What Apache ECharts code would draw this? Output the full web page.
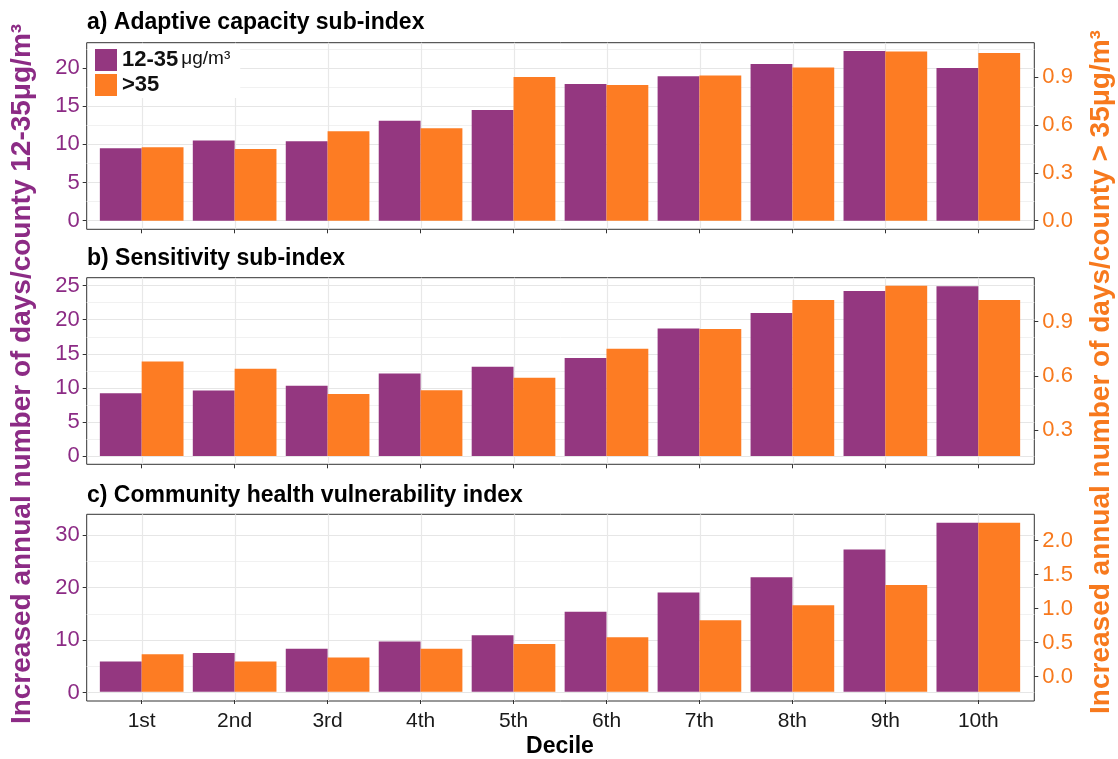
<!DOCTYPE html>
<html>
<head>
<meta charset="utf-8">
<script src="https://cdn.jsdelivr.net/npm/echarts@6/dist/echarts.min.js"></script>
<style>
  html, body { margin: 0; padding: 0; background: #fff; }
  #chart { width: 1118px; height: 759px; }
</style>
</head>
<body>
<div id="chart"></div>
<script>
var deciles = ['1st', '2nd', '3rd', '4th', '5th', '6th', '7th', '8th', '9th', '10th'];
var decilePos = [0, 1, 2, 3, 4, 5, 6, 7, 8, 9];
var seriesNames = ['12-35', '>35'];
var panelTitles = ['a) Adaptive capacity sub-index', 'b) Sensitivity sub-index', 'c) Community health vulnerability index'];

// left axis values (12-35 µg/m3), right axis values (>35 µg/m3)
var capLow = [9.5, 10.5, 10.4, 13.1, 14.5, 17.9, 18.9, 20.5, 22.2, 20.0];
var capHigh = [0.46, 0.45, 0.56, 0.58, 0.90, 0.85, 0.91, 0.96, 1.06, 1.05];
var sensLow = [9.2, 9.6, 10.3, 12.1, 13.1, 14.4, 18.7, 21.0, 24.2, 24.9];
var sensHigh = [0.68, 0.64, 0.50, 0.52, 0.59, 0.75, 0.86, 1.02, 1.10, 1.02];
var chviLow = [5.8, 7.4, 8.2, 9.6, 10.8, 15.3, 19.0, 21.9, 27.2, 32.3];
var chviHigh = [0.32, 0.21, 0.27, 0.40, 0.47, 0.57, 0.82, 1.04, 1.34, 2.26];

// tick labels
var capTicks = [0, 5, 10, 15, 20];
var capTicksR = [0, 0.3, 0.6, 0.9];
var sensTicks = [0, 5, 10, 15, 20, 25];
var sensTicksR = [0.3, 0.6, 0.9];
var chviTicks = [0, 10, 20, 30];
var chviTicksR = [0, 0.5, 1, 1.5, 2];

var purple = '#943780', orange = '#fd7c23';
var purpleText = '#8c2b85', orangeText = '#f7791d';
var font = '"Liberation Sans", Arial, sans-serif';

// panel boxes and axis ranges (secondary axis is a linear transform of the primary)
var panels = [
    { title: panelTitles[0], low: capLow, high: capHigh, ticks: capTicks, ticksR: capTicksR,
      top: 42.7, height: 186.6, titleY: 23,
      left: [-1.12, 23.3], lowSplit: 5, right: [-0.0536, 1.115], start: 0 },
    { title: panelTitles[1], low: sensLow, high: sensHigh, ticks: sensTicks, ticksR: sensTicksR,
      top: 277.7, height: 186.6, titleY: 259,
      left: [-1.22, 26.17], lowSplit: 5, right: [0.110, 1.144], start: 0.156 },
    { title: panelTitles[2], low: chviLow, high: chviHigh, ticks: chviTicks, ticksR: chviTicksR,
      top: 514.3, height: 186.7, titleY: 495.6,
      left: [-1.58, 33.94], lowSplit: 5, right: [-0.357, 2.384], start: -0.235 }
];

var grid = [], xAxis = [], yAxis = [], series = [], graphic = [];

panels.forEach(function (p, i) {
    var last = i === panels.length - 1;
    // full panel box (border + grid lines)
    grid.push({ left: 86.7, right: 83.7, top: p.top, height: p.height, show: true,
        borderColor: '#333', borderWidth: 1, backgroundColor: 'transparent' });
    // box that holds the bars, one band per decile
    grid.push({ left: 95.2, right: 93.2, top: p.top, height: p.height });

    xAxis.push({
        gridIndex: 2 * i, type: 'value', min: -0.6, max: 9.6, splitNumber: 10,
        axisLine: { show: false, onZero: false },
        axisTick: { show: false, customValues: decilePos },
        axisLabel: { show: false, customValues: decilePos },
        splitLine: { show: true, lineStyle: { color: '#e8e8e8', width: 1.2 } }
    });
    xAxis.push({
        gridIndex: 2 * i + 1, type: 'category', data: deciles,
        axisLine: { show: false, onZero: false },
        axisTick: { show: true, alignWithLabel: true, length: 4, lineStyle: { color: '#333' } },
        axisLabel: { show: last, color: '#1a1a1a', fontSize: 21, fontFamily: font, margin: 11 },
        splitLine: { show: false },
        name: last ? 'Decile' : '', nameLocation: 'middle', nameGap: 35,
        nameTextStyle: { color: '#000', fontSize: 23, fontWeight: 'bold', fontFamily: font }
    });

    yAxis.push({
        gridIndex: 2 * i, type: 'value', position: 'left', min: p.left[0], max: p.left[1], splitNumber: p.lowSplit,
        axisLine: { show: false, onZero: false },
        axisTick: { show: true, length: 4, lineStyle: { color: '#333' }, customValues: p.ticks },
        axisLabel: { color: purpleText, fontSize: 22, fontFamily: font, margin: 7, customValues: p.ticks },
        splitLine: { show: true, lineStyle: { color: '#e6e6e6', width: 1.2 } },
        minorTick: { show: false, splitNumber: 2 },
        minorSplitLine: { show: true, lineStyle: { color: '#f1f1f1', width: 1 } }
    });
    yAxis.push({
        gridIndex: 2 * i, type: 'value', position: 'right', min: p.right[0], max: p.right[1],
        axisLine: { show: false, onZero: false },
        axisTick: { show: true, length: 4, lineStyle: { color: '#333' }, customValues: p.ticksR },
        axisLabel: { color: orangeText, fontSize: 22, fontFamily: font, margin: 8, customValues: p.ticksR,
            formatter: function (v) { return v.toFixed(1); } },
        splitLine: { show: false }
    });
    yAxis.push({ gridIndex: 2 * i + 1, type: 'value', show: false, min: p.left[0], max: p.left[1],
        axisLine: { onZero: false }, splitLine: { show: false } });
    yAxis.push({ gridIndex: 2 * i + 1, type: 'value', show: false, min: p.right[0], max: p.right[1],
        axisLine: { onZero: false }, startValue: p.start, splitLine: { show: false } });

    series.push({
        name: seriesNames[0], type: 'bar', xAxisIndex: 2 * i + 1, yAxisIndex: 4 * i + 2,
        data: p.low, barWidth: '45%', barGap: '0%',
        itemStyle: { color: purple }
    });
    series.push({
        name: seriesNames[1], type: 'bar', xAxisIndex: 2 * i + 1, yAxisIndex: 4 * i + 3,
        data: p.high, barWidth: '45%', barGap: '0%',
        itemStyle: { color: orange }
    });

    graphic.push({
        type: 'text', x: 87, y: p.titleY,
        style: { text: p.title, fill: '#000', font: 'bold 23px ' + font, align: 'left', verticalAlign: 'middle' }
    });
});

graphic.push({
    type: 'text', x: 22, y: 374, rotation: Math.PI / 2,
    style: { text: 'Increased annual number of days/county 12-35μg/m³', fill: purpleText,
        font: 'bold 28px ' + font, align: 'center', verticalAlign: 'middle' }
});
graphic.push({
    type: 'text', x: 1101, y: 372, rotation: Math.PI / 2,
    style: { text: 'Increased annual number of days/county > 35μg/m³', fill: orangeText,
        font: 'bold 28px ' + font, align: 'center', verticalAlign: 'middle' }
});

var myChart = echarts.init(document.getElementById('chart'));
var option = {
    backgroundColor: '#fff',
    animation: false,
    legend: {
        data: seriesNames,
        orient: 'vertical',
        left: 88, top: 44,
        itemWidth: 22, itemHeight: 22, itemGap: 3,
        icon: 'rect',
        backgroundColor: '#fff',
        padding: [5, 10, 2, 7],
        formatter: function (name) {
            return name === seriesNames[0] ? '{b|' + name + '}{u|μg/m³}' : '{b|' + name + '}';
        },
        textStyle: {
            rich: {
                b: { fontSize: 22, fontWeight: 'bold', color: '#111', fontFamily: font },
                u: { fontSize: 19, color: '#111', fontFamily: font, verticalAlign: 'top', padding: [0, 0, 0, 3] }
            }
        }
    },
    grid: grid,
    xAxis: xAxis,
    yAxis: yAxis,
    series: series,
    graphic: graphic
};
myChart.setOption(option);
window.addEventListener('resize', function () {
    myChart.resize();
});
</script>
</body>
</html>
